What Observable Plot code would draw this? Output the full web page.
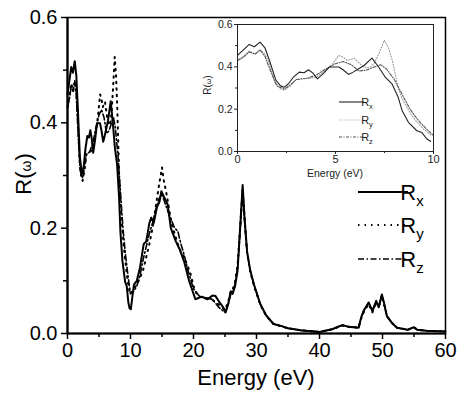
<!DOCTYPE html>
<html><head><meta charset="utf-8">
<script src="https://cdn.jsdelivr.net/npm/d3@7"></script>
<script src="https://cdn.jsdelivr.net/npm/@observablehq/plot@0.6"></script>
<style>body{margin:0;background:#fff;} #chart{width:464px;height:395px;}</style>
</head><body><div id="chart"></div>
<script>
// [energy (eV), R]
const rxData = [[0,0.454],[0.3,0.48],[0.6,0.506],[0.86,0.495],[1.15,0.517],[1.4,0.49],[1.63,0.43],[1.96,0.336],[2.2,0.31],[2.39,0.304],[2.6,0.32],[2.85,0.351],[3.15,0.375],[3.4,0.372],[3.62,0.386],[3.85,0.37],[4.08,0.343],[4.4,0.37],[4.68,0.399],[5.17,0.399],[5.4,0.385],[5.67,0.364],[5.9,0.375],[6.1,0.386],[6.44,0.405],[6.86,0.441],[7.2,0.399],[7.54,0.351],[7.88,0.32],[8.2,0.256],[8.4,0.193],[8.72,0.138],[9.15,0.098],[9.4,0.09],[9.66,0.059],[9.85,0.048],[10.05,0.046],[10.3,0.07],[10.55,0.093],[11,0.10],[11.5,0.125],[12.1,0.17],[12.5,0.175],[13,0.21],[13.3,0.22],[13.7,0.21],[14.2,0.24],[14.6,0.25],[14.9,0.27],[15.3,0.26],[15.9,0.245],[16.4,0.20],[17.2,0.175],[17.8,0.16],[18.5,0.137],[19.3,0.10],[20.3,0.065],[21.3,0.07],[22.2,0.065],[23.0,0.072],[23.5,0.071],[24.2,0.058],[24.7,0.05],[25.1,0.04],[25.5,0.055],[25.9,0.08],[26.2,0.075],[26.6,0.09],[27.0,0.12],[27.4,0.2],[27.8,0.282],[28.1,0.22],[28.5,0.156],[29.0,0.12],[29.6,0.093],[30.6,0.056],[31.5,0.035],[32.7,0.018],[34,0.014],[35,0.01],[37,0.006],[40,0.003],[42,0.008],[43.6,0.016],[44.5,0.013],[46.2,0.011],[46.6,0.03],[47.0,0.043],[47.8,0.059],[48.4,0.043],[49.0,0.062],[49.4,0.05],[49.9,0.074],[50.2,0.06],[50.7,0.033],[51.5,0.02],[52.3,0.011],[54,0.007],[55,0.012],[55.5,0.007],[57,0.005],[60,0.004]];
const ryData = [[0,0.43],[0.3,0.45],[0.6,0.475],[0.9,0.46],[1.15,0.48],[1.4,0.46],[1.6,0.42],[1.9,0.33],[2.2,0.295],[2.4,0.29],[2.7,0.31],[3.0,0.34],[3.3,0.345],[3.6,0.345],[4.0,0.35],[4.3,0.37],[4.6,0.39],[4.9,0.42],[5.17,0.454],[5.4,0.445],[5.6,0.43],[5.95,0.44],[6.3,0.41],[6.6,0.395],[6.8,0.40],[7.0,0.42],[7.25,0.47],[7.49,0.525],[7.7,0.49],[7.9,0.43],[8.2,0.30],[8.4,0.25],[8.63,0.21],[8.9,0.17],[9.15,0.14],[9.5,0.105],[9.9,0.075],[10.3,0.08],[10.8,0.09],[11.3,0.1],[12,0.12],[12.5,0.145],[13,0.17],[13.5,0.2],[14,0.24],[14.5,0.28],[15,0.315],[15.3,0.29],[15.8,0.26],[16.5,0.21],[17,0.19],[17.5,0.17],[18,0.155],[18.5,0.145],[19,0.13],[19.5,0.115],[20,0.09],[20.5,0.075],[21,0.07],[22,0.066],[23,0.064],[24,0.055],[25,0.045],[25.5,0.06],[26,0.082],[26.5,0.09],[27,0.13],[27.4,0.2],[27.8,0.275],[28.1,0.22],[28.5,0.155],[29,0.118],[29.6,0.09],[30.6,0.055],[31.5,0.034],[32.7,0.018],[34,0.013],[35,0.01],[37,0.006],[40,0.003],[42,0.008],[43.6,0.015],[44.5,0.013],[46.2,0.011],[46.6,0.028],[47.0,0.04],[47.8,0.056],[48.4,0.04],[49.0,0.06],[49.4,0.05],[49.9,0.072],[50.2,0.058],[50.7,0.033],[51.5,0.02],[52.3,0.011],[54,0.007],[55,0.012],[55.5,0.007],[57,0.005],[60,0.004]];
const rzData = [[0,0.43],[0.3,0.445],[0.6,0.47],[0.9,0.46],[1.15,0.48],[1.4,0.45],[1.6,0.40],[2.0,0.31],[2.4,0.295],[2.7,0.315],[3.0,0.34],[3.5,0.345],[4.0,0.36],[4.5,0.39],[5.0,0.415],[5.4,0.425],[5.8,0.41],[6.2,0.38],[6.6,0.385],[7.0,0.40],[7.3,0.41],[7.6,0.39],[8.0,0.34],[8.4,0.27],[8.8,0.2],[9.2,0.15],[9.6,0.11],[10,0.075],[10.5,0.08],[11,0.09],[11.5,0.11],[12,0.14],[12.5,0.165],[13,0.19],[13.5,0.21],[14,0.235],[14.5,0.255],[15,0.265],[15.4,0.25],[16,0.23],[16.5,0.215],[17,0.2],[17.5,0.195],[18,0.17],[18.5,0.15],[19,0.125],[19.5,0.105],[20,0.085],[21,0.07],[22,0.068],[23,0.065],[24,0.05],[25,0.04],[25.5,0.055],[26,0.078],[26.5,0.088],[27,0.125],[27.4,0.195],[27.8,0.27],[28.1,0.215],[28.5,0.155],[29,0.12],[29.6,0.092],[30.6,0.056],[31.5,0.035],[32.7,0.018],[34,0.014],[35,0.01],[37,0.006],[40,0.003],[42,0.008],[43.6,0.016],[44.5,0.013],[46.2,0.011],[46.6,0.029],[47.0,0.042],[47.8,0.058],[48.4,0.042],[49.0,0.061],[49.4,0.05],[49.9,0.073],[50.2,0.059],[50.7,0.033],[51.5,0.02],[52.3,0.011],[54,0.007],[55,0.012],[55.5,0.007],[57,0.005],[60,0.004]];

const seriesNames = ["x", "y", "z"];
const xMajor = [0, 10, 20, 30, 40, 50, 60];
const xMinor = [5, 15, 25, 35, 45, 55];
const yMajor = [0, 0.2, 0.4, 0.6];
const yMinor = [0.1, 0.3, 0.5];
const insetXMajor = [0, 5, 10];
const insetXMinor = [2.5, 7.5];

const toRows = (arr, s) => arr.map(([e, r]) => ({e, r, s}));
const rows = [...toRows(rxData, "x"), ...toRows(ryData, "y"), ...toRows(rzData, "z")];
const insetRows = rows.filter(d => d.e <= 10);

const FONT = "'Liberation Sans', Arial, Helvetica, sans-serif";
const fmt = d3.format(".1f");

const mainDash = {x: null, y: "1.5,5", z: "6,2.5,1.5,2.5"};
const mainW = {x: 2, y: 2, z: 1.6};
const insetDash = {x: null, y: "1,1.8", z: "3,1.5,1,1.5"};
const insetCol = {x: "#222", y: "#9a9a9a", z: "#555"};

function lineMarks(data, dash, width, color) {
  return ["y", "z", "x"].map(s => Plot.line(data.filter(d => d.s === s), {
    x: "e", y: "r", stroke: color ? color[s] : "black",
    strokeWidth: width[s], strokeDasharray: dash[s], strokeLinejoin: "round"
  }));
}

const main = Plot.plot({
  width: 464, height: 395,
  marginLeft: 67, marginRight: 19, marginTop: 17, marginBottom: 62,
  style: {fontFamily: FONT, fontSize: "20px", background: "white", color: "black", overflow: "visible"},
  x: {domain: [0, 60], label: null},
  y: {domain: [0, 0.6], label: null},
  marks: [
    ...lineMarks(rows, mainDash, mainW, null),
    Plot.frame({stroke: "black", strokeWidth: 1.5}),
    Plot.ruleX([0], {strokeWidth: 2.2}),
    Plot.ruleY([0], {strokeWidth: 2.2}),
    Plot.axisX(xMajor, {tickSize: 6, tickPadding: 3, tickFormat: d => d, fontSize: 20, strokeWidth: 1.5, label: null}),
    Plot.axisX(xMinor, {tickSize: 4, tickFormat: () => "", strokeWidth: 1.5, label: null}),
    Plot.axisY(yMajor, {tickSize: 6, tickPadding: 4, tickFormat: fmt, fontSize: 20, strokeWidth: 1.5, label: null}),
    Plot.axisY(yMinor, {tickSize: 4, tickFormat: () => "", strokeWidth: 1.5, label: null})
  ]
});

const inset = Plot.plot({
  width: 252, height: 166,
  marginLeft: 39, marginRight: 17, marginTop: 10, marginBottom: 29,
  style: {fontFamily: FONT, fontSize: "10.5px", background: "transparent", color: "#222"},
  x: {domain: [0, 10], label: null},
  y: {domain: [0, 0.6], label: null},
  marks: [
    Plot.frame({fill: "white", stroke: "none"}),
    ...lineMarks(insetRows, insetDash, {x: 1.1, y: 1.1, z: 1.1}, insetCol),
    Plot.frame({stroke: "#222", strokeWidth: 1}),
    Plot.axisX(insetXMajor, {tickSize: 3, tickPadding: 1, tickFormat: d => d, fontSize: 11, label: null}),
    Plot.axisX(insetXMinor, {tickSize: 2, tickFormat: () => "", label: null}),
    Plot.axisY(yMajor, {tickSize: 3, tickPadding: 2, tickFormat: fmt, fontSize: 10.5, label: null}),
    Plot.axisY(yMinor, {tickSize: 2, tickFormat: () => "", label: null})
  ]
});

const svg = d3.select(main);
// inset nested into the main svg (inline size overrides Plot's height:auto css)
d3.select(inset).attr("x", 198).attr("y", 14)
  .style("width", "252px").style("height", "166px").style("max-width", "none").style("overflow", "visible");
main.appendChild(inset);

// main axis labels
svg.append("text").attr("x", 256).attr("y", 385).attr("text-anchor", "middle")
  .attr("font-size", 22).attr("font-family", FONT).attr("fill", "black").text("Energy (eV)");
const yl = svg.append("text").attr("transform", "translate(31,174) rotate(-90)").attr("text-anchor", "middle")
  .attr("font-family", FONT).attr("fill", "black").attr("font-size", 22);
yl.append("tspan").text("R(");
yl.append("tspan").attr("font-size", 14).text("ω");
yl.append("tspan").text(")");

// main legend
const mainLegY = [192, 225, 259];
seriesNames.forEach((s, i) => {
  svg.append("line").attr("x1", 358).attr("x2", 408).attr("y1", mainLegY[i]).attr("y2", mainLegY[i])
    .attr("stroke", "black").attr("stroke-width", mainW[s]).attr("stroke-dasharray", mainDash[s]);
  const t = svg.append("text").attr("x", 412).attr("y", mainLegY[i] + 8).attr("font-size", 22)
    .attr("font-family", FONT).attr("fill", "black");
  t.append("tspan").text("R");
  t.append("tspan").attr("font-size", 15).attr("dy", 6).text(s);
});

// inset labels & legend (inset coordinates)
const isv = d3.select(inset);
isv.append("text").attr("x", 335 - 198).attr("y", 177 - 14).attr("text-anchor", "middle")
  .attr("font-size", 10.5).attr("font-family", FONT).attr("fill", "#222").text("Energy (eV)");
const iyl = isv.append("text").attr("transform", `translate(${211 - 198},${85 - 14}) rotate(-90)`)
  .attr("text-anchor", "middle").attr("font-family", FONT).attr("fill", "#222").attr("font-size", 10);
iyl.append("tspan").text("R(");
iyl.append("tspan").attr("font-size", 7).text("ω");
iyl.append("tspan").text(")");
const insetLegY = [102, 120, 137];
seriesNames.forEach((s, i) => {
  const y = insetLegY[i] - 14;
  isv.append("line").attr("x1", 339 - 198).attr("x2", 364 - 198).attr("y1", y).attr("y2", y)
    .attr("stroke", insetCol[s]).attr("stroke-width", 1.1).attr("stroke-dasharray", insetDash[s]);
  const t = isv.append("text").attr("x", 367 - 198).attr("y", y + 4).attr("font-size", 11)
    .attr("font-family", FONT).attr("fill", "#222");
  t.append("tspan").text("R");
  t.append("tspan").attr("font-size", 7.5).attr("dy", 3).text(s);
});

document.getElementById("chart").appendChild(main);
</script></body></html>
